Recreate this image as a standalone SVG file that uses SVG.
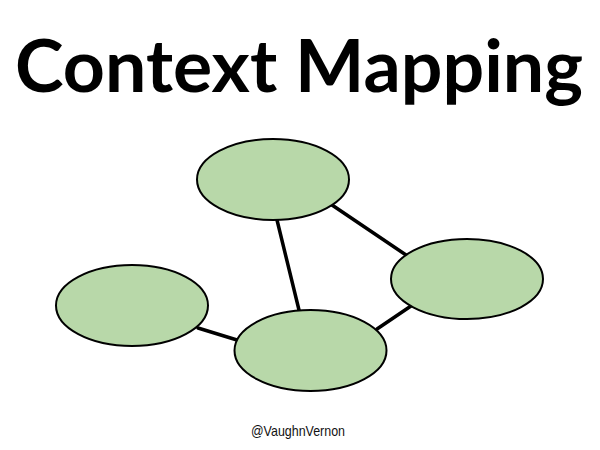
<svg xmlns="http://www.w3.org/2000/svg" width="600" height="450" viewBox="0 0 600 450">
<style>
.node{fill:#b8d8a9;stroke:#000;stroke-width:2}
.edge{stroke:#000;stroke-width:3.5;stroke-linecap:round}
.title{font-family:Lato,"DejaVu Sans",sans-serif;font-weight:bold;font-size:72px;fill:#000}
.credit{font-family:"Liberation Sans",Arial,sans-serif;font-size:15px;fill:#111}
</style>
<rect width="600" height="450" fill="#fff"/>
<text class="title" x="15" y="92" textLength="568" lengthAdjust="spacingAndGlyphs">Context Mapping</text>
<g id="connectors">
<line class="edge" x1="277" y1="220" x2="299" y2="310"/>
<line class="edge" x1="332" y1="205" x2="406" y2="255"/>
<line class="edge" x1="411" y1="306" x2="377" y2="329"/>
<line class="edge" x1="198" y1="328" x2="237" y2="340"/>
</g>
<g id="node-top"><ellipse class="node" cx="273" cy="179.5" rx="76" ry="40.5"/></g>
<g id="node-right"><ellipse class="node" cx="467" cy="279" rx="76" ry="40"/></g>
<g id="node-left"><ellipse class="node" cx="132" cy="305.5" rx="76" ry="40.5"/></g>
<g id="node-bottom"><ellipse class="node" cx="310.5" cy="350.5" rx="76" ry="40.5"/></g>
<text class="credit" x="251" y="436" textLength="94" lengthAdjust="spacingAndGlyphs">@VaughnVernon</text>
</svg>
